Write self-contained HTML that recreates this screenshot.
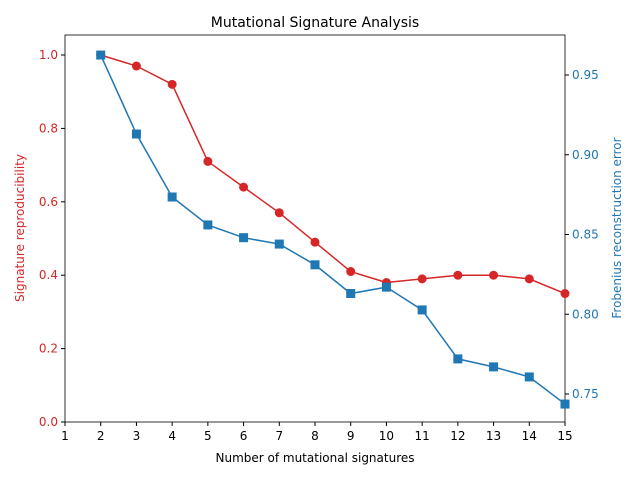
<!DOCTYPE html>
<html><head><meta charset="utf-8"><style>
body{margin:0;background:#fff;font-family:"Liberation Sans","DejaVu Sans",sans-serif;}
</style></head><body>
<svg width="640" height="480" xmlns="http://www.w3.org/2000/svg" font-family="DejaVu Sans, Liberation Sans, sans-serif">
<g id="g"></g>
</svg>
<script>
const ks=[2,3,4,5,6,7,8,9,10,11,12,13,14,15];
const repro=[1.0,0.97,0.92,0.71,0.64,0.57,0.49,0.41,0.38,0.39,0.40,0.40,0.39,0.35];
const frob=[0.9625,0.913,0.8735,0.856,0.848,0.844,0.831,0.813,0.817,0.8027,0.772,0.767,0.7607,0.7437];
const xTicks=[1,2,3,4,5,6,7,8,9,10,11,12,13,14,15];
const yTicks=[0,0.2,0.4,0.6,0.8,1.0];
const y2Ticks=[0.75,0.80,0.85,0.90,0.95];
const L=65,R=565,T=35,B=422;
const x=v=>L+(v-1)/14*(R-L);
const y=v=>422-v*367;
const y2=v=>75+(0.95-v)*1595;
const g=document.getElementById('g');const NS='http://www.w3.org/2000/svg';
function el(t,a,txt){const e=document.createElementNS(NS,t);for(const k in a)e.setAttribute(k,a[k]);if(txt!==undefined)e.textContent=txt;g.appendChild(e);return e;}
const red='#d62728',blue='#1f77b4';
let e;
e=el('rect',{x:L,y:T,width:R-L,height:B-T,fill:'none',stroke:'#000','stroke-width':0.8});

xTicks.forEach(v=>{el('line',{x1:x(v),x2:x(v),y1:B,y2:B+4,stroke:'#000'});
e=el('text',{x:x(v),y:B+18,'text-anchor':'middle','font-size':12},String(v));
});
yTicks.forEach(v=>{el('line',{x1:L-4,x2:L,y1:y(v),y2:y(v),stroke:'#000'});
e=el('text',{x:L-7,y:y(v)+4,'text-anchor':'end','font-size':12,fill:red},v.toFixed(1));
});
y2Ticks.forEach(v=>{el('line',{x1:R,x2:R+4,y1:y2(v),y2:y2(v),stroke:'#000'});
e=el('text',{x:R+7,y:y2(v)+4,'text-anchor':'start','font-size':12,fill:blue},v.toFixed(2));
});
e=el('polyline',{points:ks.map((k,i)=>x(k)+','+y(repro[i])).join(' '),fill:'none',stroke:red,'stroke-width':1.5});

ks.forEach((k,i)=>{e=el('circle',{cx:x(k),cy:y(repro[i]),r:4.5,fill:red});
});
e=el('polyline',{points:ks.map((k,i)=>x(k)+','+y2(frob[i])).join(' '),fill:'none',stroke:blue,'stroke-width':1.5});

ks.forEach((k,i)=>{e=el('rect',{x:x(k)-4.5,y:y2(frob[i])-4.5,width:9,height:9,fill:blue});
});
e=el('text',{x:315,y:27,'text-anchor':'middle','font-size':14},'Mutational Signature Analysis');

e=el('text',{x:315,y:462,'text-anchor':'middle','font-size':12},'Number of mutational signatures');

e=el('text',{x:24,y:228,'text-anchor':'middle','font-size':12,fill:red,transform:'rotate(-90 24 228)'},'Signature reproducibility');

e=el('text',{x:621,y:228,'text-anchor':'middle','font-size':12,fill:blue,transform:'rotate(-90 621 228)'},'Frobenius reconstruction error');

</script>
</body></html>
